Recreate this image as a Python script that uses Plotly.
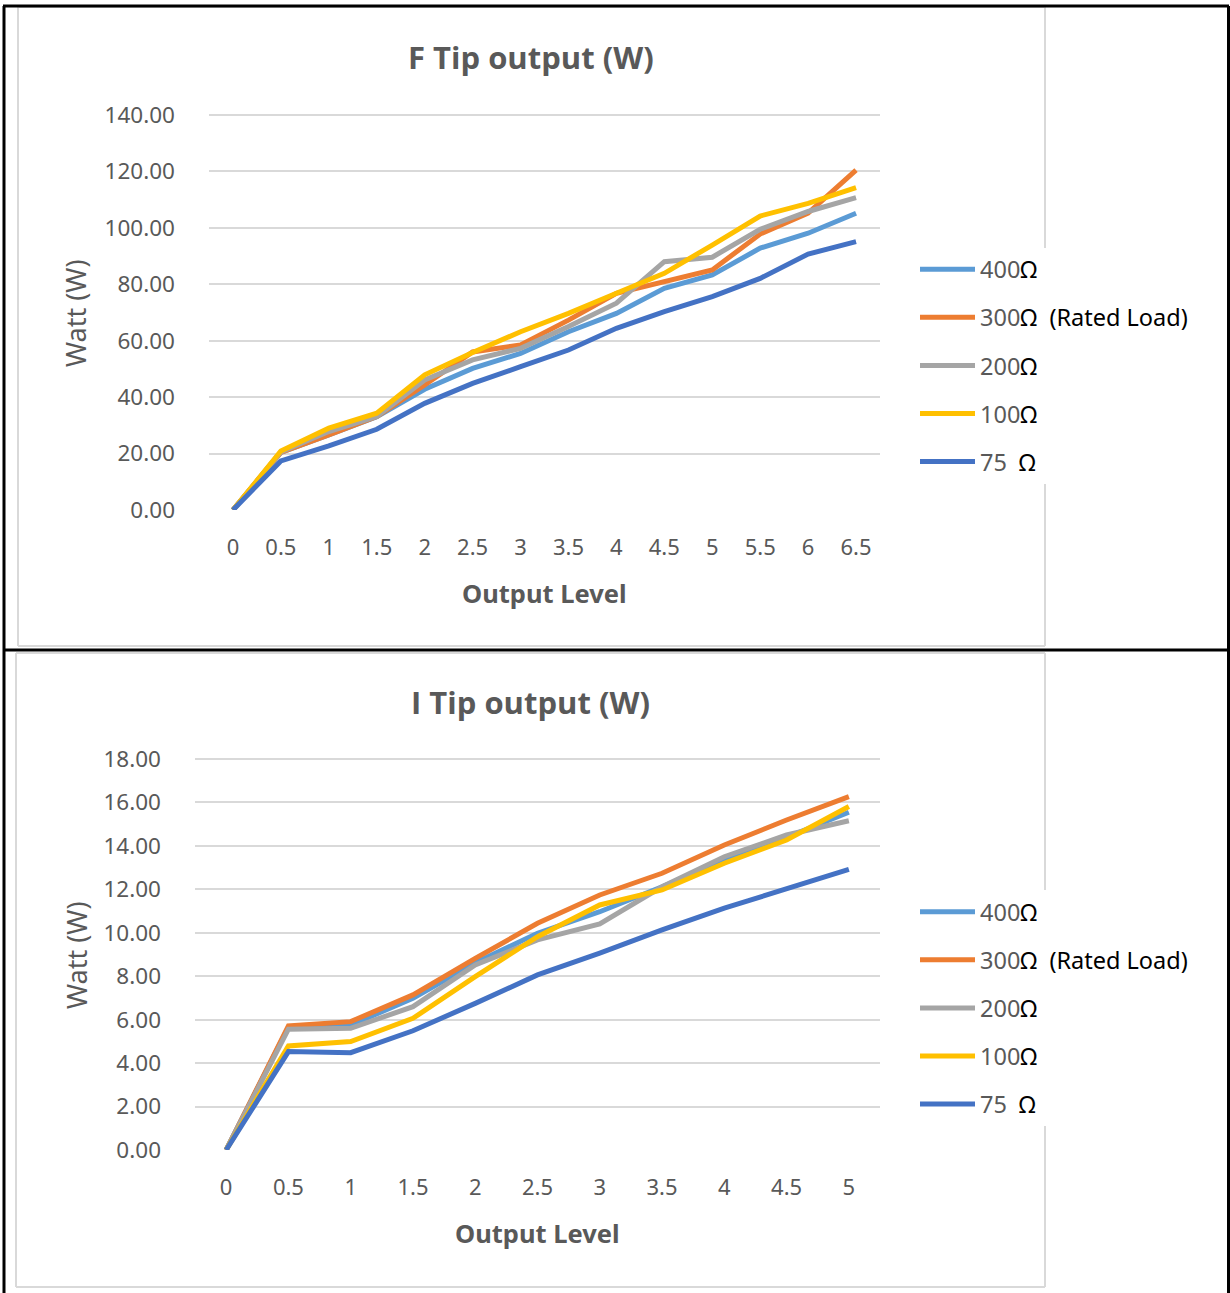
import plotly.graph_objects as go

# ---------------- data ----------------
f_levels = ["0", "0.5", "1", "1.5", "2", "2.5", "3", "3.5", "4", "4.5", "5", "5.5", "6", "6.5"]
f_400 = [0, 20.4, 26.6, 33.1, 42.8, 50.2, 55.5, 63.2, 69.7, 78.6, 83.3, 92.8, 98.1, 105.2]
f_300 = [0, 20.4, 26.6, 33.1, 44.3, 56.0, 58.5, 67.3, 76.8, 80.9, 85.1, 97.8, 105.2, 120.5]
f_200 = [0, 20.6, 27.8, 33.1, 46.1, 53.2, 57.3, 65.0, 73.3, 88.0, 89.6, 99.5, 105.8, 110.7]
f_100 = [0, 20.9, 29.0, 34.3, 47.9, 55.8, 63.2, 69.7, 76.8, 83.9, 93.9, 104.2, 108.7, 114.3]
f_75 = [0, 17.4, 22.7, 28.6, 37.8, 44.9, 50.8, 56.7, 64.4, 70.3, 75.6, 82.1, 90.7, 95.1]

i_levels = ["0", "0.5", "1", "1.5", "2", "2.5", "3", "3.5", "4", "4.5", "5"]
i_400 = [0, 5.65, 5.75, 6.98, 8.62, 9.98, 10.97, 12.12, 13.35, 14.40, 15.55]
i_300 = [0, 5.71, 5.91, 7.14, 8.82, 10.44, 11.74, 12.74, 14.04, 15.19, 16.27]
i_200 = [0, 5.56, 5.60, 6.60, 8.52, 9.67, 10.41, 12.12, 13.50, 14.50, 15.16]
i_100 = [0, 4.79, 4.99, 6.06, 7.98, 9.82, 11.28, 11.97, 13.20, 14.27, 15.81]
i_75 = [0, 4.53, 4.48, 5.49, 6.75, 8.06, 9.06, 10.13, 11.13, 12.03, 12.92]

series_names = ["400", "300", "200", "100", "75"]
series_suffix = ["Ω", "Ω  (Rated Load)", "Ω", "Ω", "Ω"]
series_colors = ["#5B9BD5", "#ED7D31", "#A5A5A5", "#FFC000", "#4472C4"]

f_ticks = [0, 20, 40, 60, 80, 100, 120, 140]
i_ticks = [0, 2, 4, 6, 8, 10, 12, 14, 16, 18]

# ---------------- figure ----------------
W, H = 1230, 1293
FONT = "Noto Sans"
TITLE_FONT = "Open Sans"
GREY_TXT = "#595959"


def px(x):
    return x / W


def py(y):
    return 1 - y / H


def y_layout(pix_zero, pix_top, vmax, extra_px=1.5):
    """domain/range so that vmax sits at pix_top and the top gridline is drawn"""
    per = (pix_zero - pix_top) / vmax
    rng_top = vmax + extra_px / per
    dom = [py(pix_zero), py(pix_top - extra_px)]
    return dom, [0, rng_top]


fig = go.Figure()

f_data = [f_400, f_300, f_200, f_100, f_75]
i_data = [i_400, i_300, i_200, i_100, i_75]


def label_for(k):
    nm = series_names[k]
    if nm == "75":
        nm = "75\u2002"
    return f"{nm}<span style='color:#000000'>{series_suffix[k]}</span>"


for k in range(5):
    fig.add_trace(go.Scatter(
        x=f_levels, y=f_data[k], mode="lines", name=label_for(k),
        line=dict(color=series_colors[k], width=5),
        xaxis="x", yaxis="y", legend="legend", legendgroup=f"f{k}",
        cliponaxis=False, hoverinfo="x+y"))
for k in range(5):
    fig.add_trace(go.Scatter(
        x=i_levels, y=i_data[k], mode="lines", name=label_for(k),
        line=dict(color=series_colors[k], width=5),
        xaxis="x2", yaxis="y2", legend="legend2", legendgroup=f"i{k}",
        cliponaxis=False, hoverinfo="x+y"))

axis_common = dict(
    showgrid=False, zeroline=False, ticks="", showline=False, automargin=False,
    tickfont=dict(family=FONT, size=22, color=GREY_TXT), fixedrange=True,
    ticklabelstandoff=22,
)
yaxis_common = dict(
    showgrid=True, gridcolor="#D9D9D9", gridwidth=1.5, zeroline=False, ticks="",
    showline=False, tickformat=".2f", automargin=False,
    tickfont=dict(family=FONT, size=22.5, color=GREY_TXT), fixedrange=True,
    ticklabelstandoff=33,
)

legend_common = dict(
    font=dict(family=FONT, size=23.5, color=GREY_TXT),
    bgcolor="#FFFFFF", traceorder="grouped", tracegroupgap=14.5,
    itemwidth=55, xanchor="left", yanchor="middle", itemclick=False,
    itemdoubleclick=False,
)

f_dom, f_rng = y_layout(510, 115, 140)
i_dom, i_rng = y_layout(1150, 759, 18)

fig.update_layout(
    width=W, height=H, margin=dict(l=0, r=0, t=0, b=0, autoexpand=False),
    paper_bgcolor="#FFFFFF", plot_bgcolor="#FFFFFF",
    xaxis=dict(axis_common, domain=[px(209), px(880)], range=[-0.5, 13.5],
               type="category", anchor="y"),
    yaxis=dict(yaxis_common, domain=f_dom, range=f_rng,
               tickvals=f_ticks, anchor="x"),
    xaxis2=dict(axis_common, domain=[px(195), px(880)], range=[-0.5, 10.5],
                type="category", anchor="y2"),
    yaxis2=dict(yaxis_common, domain=i_dom, range=i_rng,
                tickvals=i_ticks, anchor="x2"),
    legend=dict(legend_common, x=px(915), y=py(365.5)),
    legend2=dict(legend_common, x=px(915), y=py(1008)),
    showlegend=True,
)

# titles
ann = []


def add_text(text, x, y, size, bold=False, angle=0, family=FONT):
    ann.append(dict(
        text=f"<b>{text}</b>" if bold else text, x=px(x), y=py(y),
        xref="paper", yref="paper", showarrow=False, textangle=angle,
        xanchor="center", yanchor="middle",
        font=dict(family=family, size=size, color=GREY_TXT)))


add_text("F Tip output (W)", 531, 57, 31, bold=True, family=TITLE_FONT)
add_text("Output Level", 544, 593, 25.5, bold=True)
add_text("Watt (W)", 76, 313, 27, angle=-90)
add_text("I Tip output (W)", 530, 702, 31, bold=True, family=TITLE_FONT)
add_text("Output Level", 537, 1233, 25.5, bold=True)
add_text("Watt (W)", 76, 955, 27, angle=-90)
fig.update_layout(annotations=ann)

# borders
shapes = []


def seg(x0, y0, x1, y1, color, width):
    shapes.append(dict(type="line", xref="paper", yref="paper",
                       x0=px(x0), y0=py(y0), x1=px(x1), y1=py(y1),
                       line=dict(color=color, width=width), layer="above"))


# chart frames (light grey)
G = "#D9D9D9"
seg(18, 7, 1045, 7, G, 2)
seg(18, 646, 1045, 646, G, 2)
seg(18, 7, 18, 646, G, 2)
seg(1045, 7, 1045, 646, G, 2)
seg(16, 653, 1045, 653, G, 2)
seg(16, 1287, 1045, 1287, G, 2)
seg(16, 653, 16, 1287, G, 2)
seg(1045, 653, 1045, 1287, G, 2)
# outer table (black)
B = "#000000"
seg(3, 6, 1229, 6, B, 3)
seg(4, 6, 4, 1293, B, 3)
seg(1228.5, 6, 1228.5, 1293, B, 3)
seg(3, 650, 1229, 650, B, 3)
fig.update_layout(shapes=shapes)

fig.write_html("out.html", config={"displayModeBar": False},
               post_script="document.body.style.margin='0';document.body.style.overflow='hidden';")
